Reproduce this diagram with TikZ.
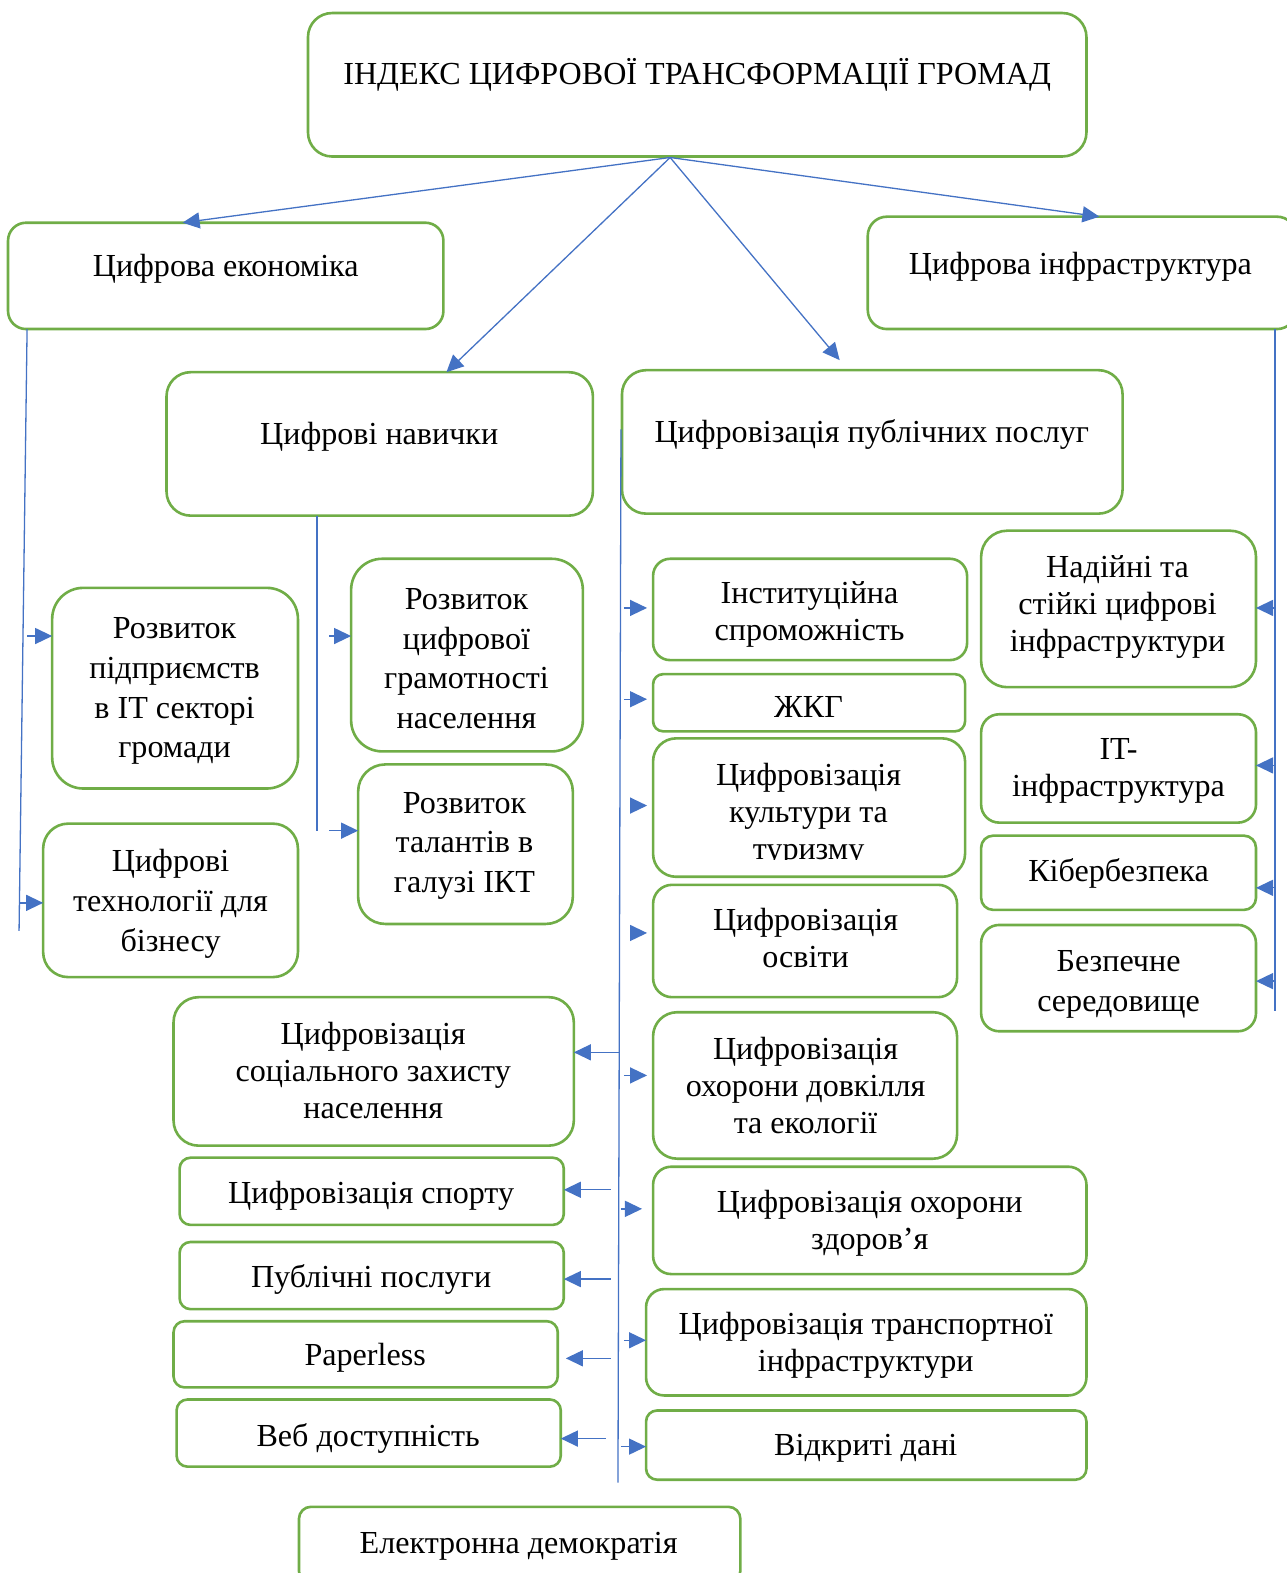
\documentclass[tikz,border=0pt]{standalone}
\usepackage{fontspec}
\setmainfont{Liberation Serif}
\usetikzlibrary{arrows.meta}
\definecolor{gr}{HTML}{70AD47}
\definecolor{bl}{HTML}{4472C4}
\tikzset{
  box/.style={draw=gr, line width=2.6pt, inner sep=0pt, outer sep=0pt},
  txt/.style={align=center, inner sep=0pt, font=\fontsize{32}{37}\selectfont, yshift=-4pt,
    execute at begin node=\strut, execute at end node=\strut},
  txtw/.style={txt, font=\fontsize{32}{39.5}\selectfont, yshift=-2pt},
  arr/.style={draw=bl, line width=1.3pt, -{Triangle[length=17pt,width=16pt]}},
  ln/.style={draw=bl, line width=1.3pt},
  gap/.style={shorten >=6pt},
}
\newcommand\bx[6]{\node[box, rounded corners=#6pt, minimum width={#4-#2}, minimum height={#5-#3}] (#1) at ({(#2+#4)/2},{(#3+#5)/2}) {};}
\begin{document}
\begin{tikzpicture}[x=1pt,y=-1pt]
\useasboundingbox (0,0) rectangle (1282,1568);
% boxes
\bx{top}{307}{13}{1083}{156}{24}
\bx{econ}{8}{222}{442}{328}{18}
\bx{infra}{865}{216}{1292}{328}{19}
\bx{nav}{166}{371}{591}{514}{24}
\bx{pub}{620}{369}{1119}{512}{24}
\bx{pidpr}{52}{586}{297}{786}{31}
\bx{hramot}{350}{557}{581}{749}{31}
\bx{talant}{357}{762}{571}{921}{27}
\bx{tekhn}{43}{821}{297}{974}{25}
\bx{instyt}{651}{557}{964}{658}{17}
\bx{zhkh}{651}{672}{962}{729}{10}
\bx{kult}{651}{736}{962}{874}{23}
\bx{osvita}{651}{882}{954}{994}{19}
\bx{dovk}{651}{1009}{954}{1155}{24}
\bx{zdorov}{651}{1163}{1083}{1270}{18}
\bx{transp}{644}{1285}{1083}{1391}{18}
\bx{vidkr}{644}{1406}{1083}{1475}{11}
\bx{nadiyni}{978}{529}{1252}{685}{26}
\bx{it}{978}{712}{1252}{820}{18}
\bx{kiber}{978}{833}{1252}{907}{12}
\bx{bezp}{978}{922}{1252}{1028}{18}
\bx{social}{173}{994}{572}{1142}{25}
\bx{sport}{179}{1154}{562}{1221}{11}
\bx{publ}{179}{1238}{562}{1305}{11}
\bx{paper}{173}{1317}{556}{1383}{11}
\bx{veb}{176}{1395}{559}{1462}{11}
\bx{edem}{298}{1502}{738}{1578}{12}
% texts
\node[txt] (top-t) at (695,73) {ІНДЕКС ЦИФРОВОЇ ТРАНСФОРМАЦІЇ ГРОМАД};
\node[txt] (econ-t) at (225,264) {Цифрова економіка};
\node[txt] (infra-t) at (1077,262) {Цифрова інфраструктура};
\node[txt] (nav-t) at (378,432) {Цифрові навички};
\node[txt] (pub-t) at (869,430) {Цифровізація публічних послуг};
\node[txtw] (pidpr-t) at (174,685.5) {Розвиток\\підприємств\\в IT секторі\\громади};
\node[txtw] (hramot-t) at (465,656.5) {Розвиток\\цифрової\\грамотності\\населення};
\node[txtw] (talant-t) at (463,839.5) {Розвиток\\талантів в\\галузі ІКТ};
\node[txtw] (tekhn-t) at (170,897.5) {Цифрові\\технології для\\бізнесу};
\node[txt] (instyt-t) at (807,610.5) {Інституційна\\спроможність};
\node[txt] (zhkh-t) at (806,704) {ЖКГ};
\begin{scope}
\clip (640,730) rectangle (970,857);
\node[txt] (kult-t) at (806,810) {Цифровізація\\культури та\\туризму};
\end{scope}
\node[txt] (osvita-t) at (803,936.5) {Цифровізація\\освіти};
\node[txt] (dovk-t) at (803,1083.5) {Цифровізація\\охорони довкілля\\та екології};
\node[txt] (zdorov-t) at (867,1217.5) {Цифровізація охорони\\здоров’я};
\node[txt] (transp-t) at (863,1339.5) {Цифровізація транспортної\\інфраструктури};
\node[txt] (vidkr-t) at (863,1439) {Відкриті дані};
\node[txt] (nadiyni-t) at (1114,603) {Надійні та\\стійкі цифрові\\інфраструктури};
\node[txt] (it-t) at (1115,766.5) {IT-\\інфраструктура};
\node[txt] (kiber-t) at (1115,867) {Кібербезпека};
\node[txtw] (bezp-t) at (1115,978) {Безпечне\\середовище};
\node[txt] (social-t) at (372,1068.5) {Цифровізація\\соціального захисту\\населення};
\node[txt] (sport-t) at (370,1188) {Цифровізація спорту};
\node[txt] (publ-t) at (370,1272) {Публічні послуги};
\node[txt] (paper-t) at (364,1350) {Paperless};
\node[txt] (veb-t) at (367,1430) {Веб доступність};
\node[txt] (edem-t) at (517,1537) {Електронна демократія};
% connectors from the index
\coordinate (hub) at (668,157);
\coordinate (pubtip) at (837,359);
\draw[arr] (hub) -- (182,0 |- econ.north);
\draw[arr] (hub) -- (445,0 |- nav.north);
\draw[arr] (hub) -- (pubtip);
\draw[arr] (hub) -- (1096,0 |- infra.north);
% economy trunk
\draw[ln] (27,0 |- econ.south) -- (19,928);
\draw[arr] (27,634) -- (pidpr.west |- 0,634);
\draw[arr] (20,900) -- (tekhn.west |- 0,900);
% skills trunk
\draw[ln] (316,0 |- nav.south) -- (316,828);
\draw[arr] (328,634) -- (hramot.west |- 0,634);
\draw[arr] (328,828) -- (talant.west |- 0,828);
% public services trunk
\coordinate (ptop) at (619,428);
\coordinate (pbot) at (616,1478);
\draw[ln] (ptop) -- (pbot);
\draw[arr,gap] (622,606) -- (instyt.west |- 0,606);
\draw[arr,gap] (622,697) -- (zhkh.west |- 0,697);
\draw[arr,gap] (628,803) -- (kult.west |- 0,803);
\draw[arr,gap] (628,930) -- (osvita.west |- 0,930);
\draw[arr,gap] (622,1072) -- (dovk.west |- 0,1072);
\coordinate (zdtip) at (640,1205);
\draw[arr] (619,1205) -- (zdtip);
\draw[arr] (622,1336) -- (transp.west |- 0,1336);
\draw[arr] (619,1442) -- (vidkr.west |- 0,1442);
\draw[arr] (617,1049) -- (social.east |- 0,1049);
\draw[arr] (609,1186) -- (sport.east |- 0,1186);
\draw[arr] (609,1275) -- (publ.east |- 0,1275);
\coordinate (pptip) at (564,1354);
\draw[arr] (609,1354) -- (pptip);
\draw[arr] (604,1434) -- (veb.east |- 0,1434);
% infrastructure trunk
\draw[ln] (1271,0 |- infra.south) -- (1271,1008);
\draw[arr] (1271,606) -- (nadiyni.east |- 0,606);
\draw[arr] (1271,763) -- (it.east |- 0,763);
\draw[arr] (1271,885) -- (kiber.east |- 0,885);
\draw[arr] (1271,978) -- (bezp.east |- 0,978);
\end{tikzpicture}
\end{document}
